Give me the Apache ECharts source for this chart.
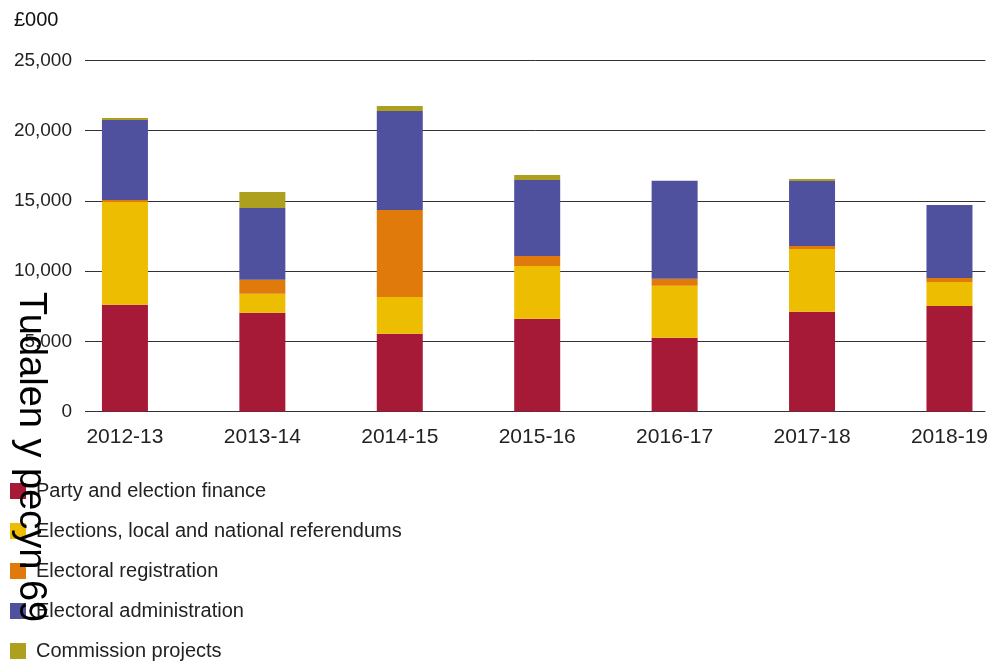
<!DOCTYPE html>
<html>
<head>
<meta charset="utf-8">
<script src="https://cdn.jsdelivr.net/npm/echarts@6/dist/echarts.min.js"></script>
<style>
html,body{margin:0;padding:0;background:#fff;}
#chart{width:991px;height:661px;}
</style>
</head>
<body>
<div id="chart"></div>
<script>
const categories = ['2012-13','2013-14','2014-15','2015-16','2016-17','2017-18','2018-19'];
const seriesNames = ['Party and election finance','Elections, local and national referendums','Electoral registration','Electoral administration','Commission projects'];
const partyFinance = [7600, 7030, 5530, 6600, 5250, 7100, 7520];
const elections = [7330, 1350, 2630, 3770, 3700, 4480, 1710];
const registration = [140, 1000, 6190, 710, 500, 210, 280];
const administration = [5690, 5120, 7050, 5410, 6980, 4630, 5200];
const projects = [140, 1140, 360, 360, 0, 140, 0];
const yTicks = [0, 5000, 10000, 15000, 20000, 25000];
const colors = ['#A71A37','#ECBD00','#E07A0A','#4F519E','#ADA01E'];

const FONT = 'Liberation Sans';
const chart = echarts.init(document.getElementById('chart'), null, {renderer:'canvas'});
const allData = [partyFinance, elections, registration, administration, projects];
const catIndex = categories.map((c, i) => i);

chart.setOption({
  animation: false,
  textStyle: {fontFamily: FONT},
  title: {
    text: '£000', left: 14, top: 10, padding: 0,
    textStyle: {fontFamily: FONT, fontSize: 20, fontWeight: 'normal', color: '#111'}
  },
  legend: {
    orient: 'vertical', left: 10, top: 481, height: 200, padding: 0,
    itemWidth: 16, itemHeight: 16, itemGap: 20,
    icon: 'rect',
    data: seriesNames,
    textStyle: {fontFamily: FONT, fontSize: 20, color: '#222', padding: [0,0,0,5]}
  },
  grid: {left: 85, right: 4, top: 60.5, bottom: 249.5},
  xAxis: {
    type: 'value', min: -0.2906, max: 6.2615,
    axisLine: {show: false}, axisTick: {show: false}, splitLine: {show: false},
    axisLabel: {margin: 15, fontFamily: FONT, fontSize: 21, color: '#222',
      customValues: catIndex, formatter: v => categories[Math.round(v)] || ''}
  },
  yAxis: {
    type: 'value', min: yTicks[0], max: yTicks[yTicks.length-1], interval: 5000,
    axisLine: {show: false}, axisTick: {show: false},
    axisLabel: {margin: 13, fontFamily: FONT, fontSize: 19, color: '#222',
      formatter: v => v.toLocaleString('en-GB')},
    splitLine: {lineStyle: {color: '#333', width: 1}}
  },
  series: seriesNames.map((name, i) => ({
    name, type: 'bar', stack: 'total',
    barWidth: 46,
    encode: {x: 1, y: 0},
    data: allData[i].map((v, j) => [v, catIndex[j]]),
    itemStyle: {color: colors[i]}
  })),
  graphic: [{
    type: 'text', x: 30, y: 292, rotation: -Math.PI/2, z: 100,
    style: {text: 'Tudalen y pecyn 69', fontFamily: FONT, fontSize: 38, fill: '#000',
      textAlign: 'left', textVerticalAlign: 'middle'}
  }]
});
</script>
</body>
</html>
